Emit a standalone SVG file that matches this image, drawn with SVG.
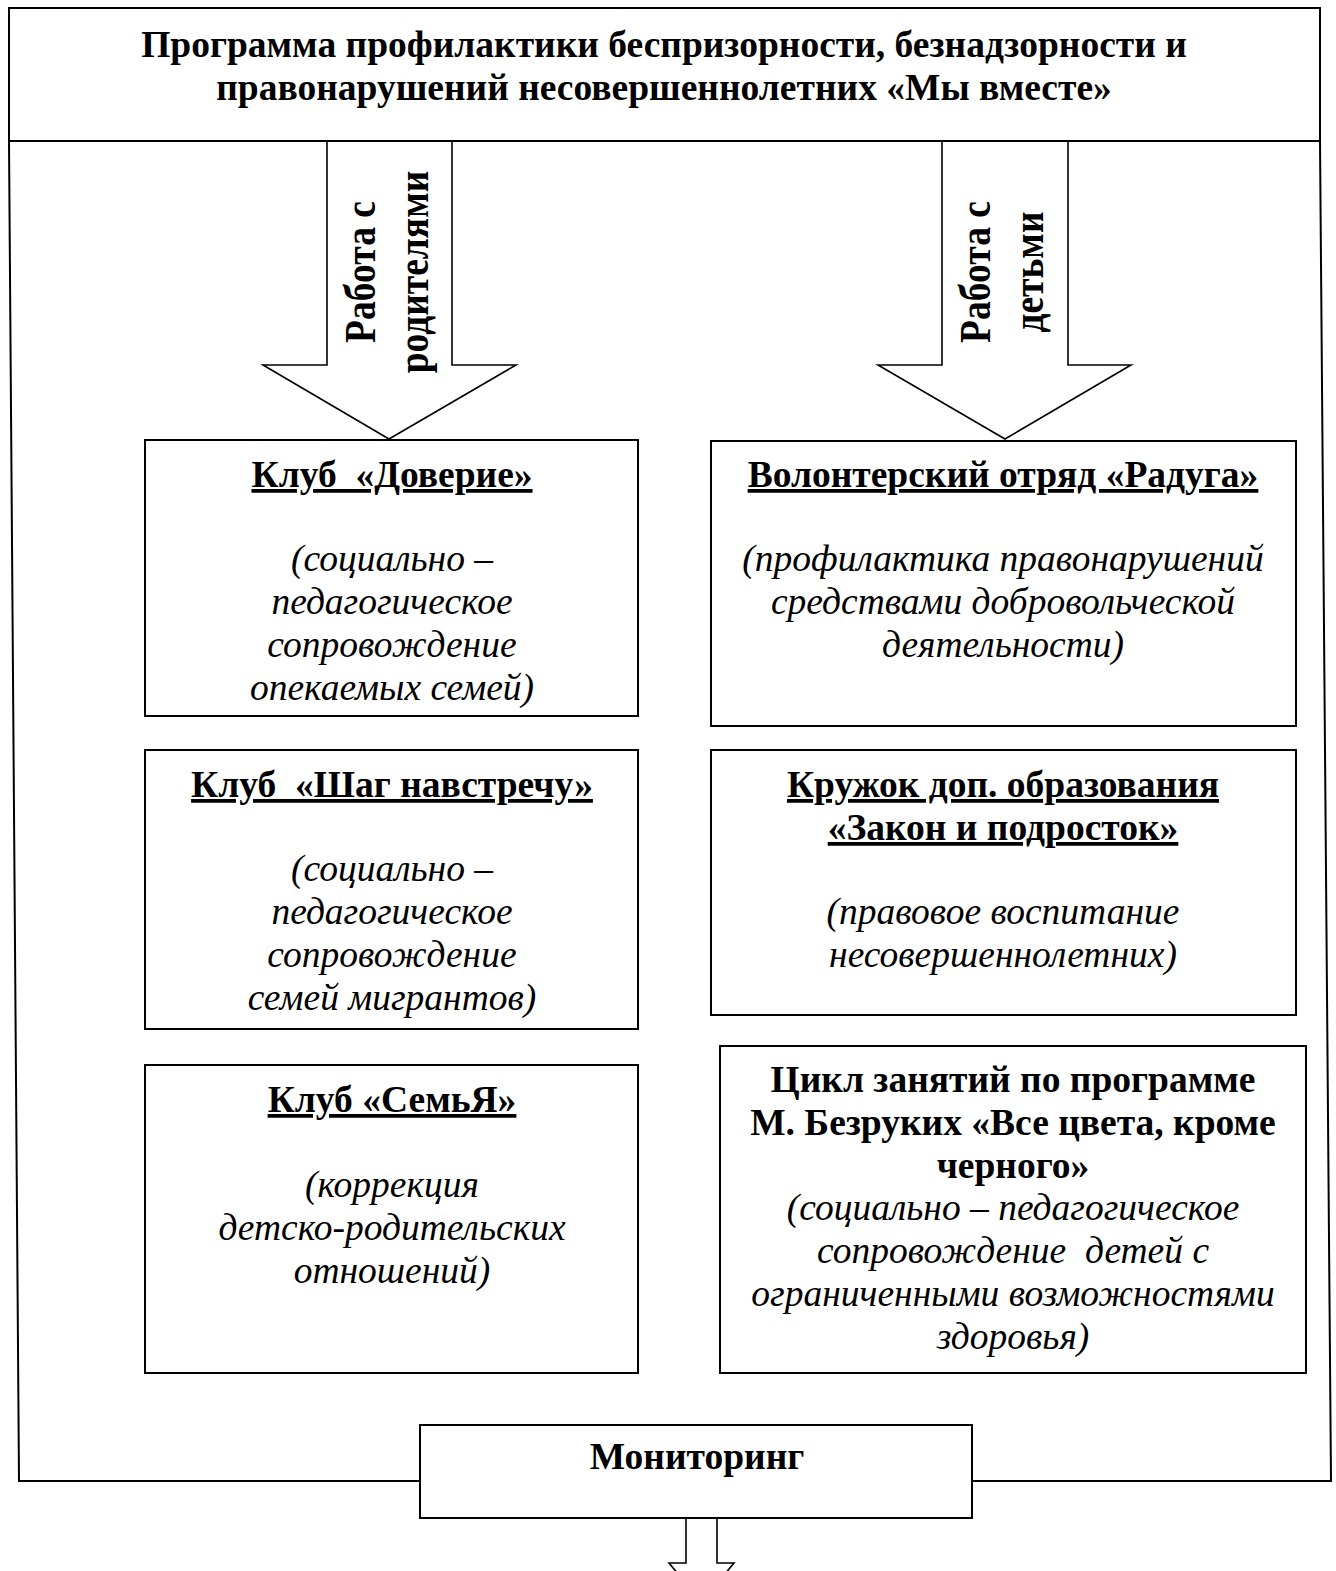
<svg xmlns="http://www.w3.org/2000/svg" width="1336" height="1571" viewBox="0 0 1336 1571">
<style>
.ln{fill:none;stroke:#000;stroke-width:2}
.bx{fill:#fff;stroke:#000;stroke-width:2}
.ar{fill:#fff;stroke:#000;stroke-width:1.6;stroke-linejoin:miter}
.h{font-family:"Liberation Serif","Times New Roman",serif;font-weight:bold;font-size:37.5px;text-anchor:middle;fill:#000;white-space:pre}
.u{text-decoration:underline}
.i{font-family:"Liberation Serif","Times New Roman",serif;font-style:italic;font-size:37.5px;text-anchor:middle;fill:#000;white-space:pre}
</style>
<rect width="1336" height="1571" fill="#fff"/>
<g id="connectors">
<path class="ln" d="M9,141 L19,1481 L420,1481 M972,1481 L1331,1481 L1320,141"/>
<polygon class="ar" points="327,141 452,141 452,365 516,365 389,439 263,365 327,365"/>
<polygon class="ar" points="942,141 1068,141 1068,365 1131,365 1005,439 878,365 942,365"/>
<polygon class="ar" points="686,1518 717,1518 717,1563 734,1563 701.5,1602 669,1563 686,1563"/>
</g>
<g id="title">
<rect class="bx" x="9" y="8" width="1311" height="133"/>
<text class="h" x="664" y="57">Программа профилактики беспризорности, безнадзорности и</text>
<text class="h" x="664" y="100">правонарушений несовершеннолетних «Мы вместе»</text>
</g>
<g id="label-parents" transform="translate(375,272) rotate(-90) scale(1,1.2)">
<text class="h" x="0" y="0">Работа с</text>
<text class="h" x="0" y="44">родителями</text>
</g>
<g id="label-children" transform="translate(990,272) rotate(-90) scale(1,1.2)">
<text class="h" x="0" y="0">Работа с</text>
<text class="h" x="0" y="44">детьми</text>
</g>
<g id="club-doverie">
<rect class="bx" x="145" y="440" width="493" height="276"/>
<text class="h u" x="392" y="487">Клуб  «Доверие»</text>
<text class="i" x="392" y="571">(социально –</text>
<text class="i" x="392" y="614">педагогическое</text>
<text class="i" x="392" y="657">сопровождение</text>
<text class="i" x="392" y="700">опекаемых семей)</text>
</g>
<g id="club-shag">
<rect class="bx" x="145" y="750" width="493" height="279"/>
<text class="h u" x="392" y="797">Клуб  «Шаг навстречу»</text>
<text class="i" x="392" y="881">(социально –</text>
<text class="i" x="392" y="924">педагогическое</text>
<text class="i" x="392" y="967">сопровождение</text>
<text class="i" x="392" y="1010">семей мигрантов)</text>
</g>
<g id="club-semya">
<rect class="bx" x="145" y="1065" width="493" height="308"/>
<text class="h u" x="392" y="1112">Клуб «СемьЯ»</text>
<text class="i" x="392" y="1197">(коррекция</text>
<text class="i" x="392" y="1240">детско-родительских</text>
<text class="i" x="392" y="1283">отношений)</text>
</g>
<g id="volunteer">
<rect class="bx" x="711" y="441" width="585" height="285"/>
<text class="h u" x="1003" y="487">Волонтерский отряд «Радуга»</text>
<text class="i" x="1003" y="571">(профилактика правонарушений</text>
<text class="i" x="1003" y="614">средствами добровольческой</text>
<text class="i" x="1003" y="657">деятельности)</text>
</g>
<g id="kruzhok">
<rect class="bx" x="711" y="750" width="585" height="265"/>
<text class="h u" x="1003" y="797">Кружок доп. образования</text>
<text class="h u" x="1003" y="840">«Закон и подросток»</text>
<text class="i" x="1003" y="924">(правовое воспитание</text>
<text class="i" x="1003" y="967">несовершеннолетних)</text>
</g>
<g id="cycle">
<rect class="bx" x="720" y="1046" width="586" height="327"/>
<text class="h" x="1013" y="1092">Цикл занятий по программе</text>
<text class="h" x="1013" y="1135">М. Безруких «Все цвета, кроме</text>
<text class="h" x="1013" y="1178">черного»</text>
<text class="i" x="1013" y="1220">(социально – педагогическое</text>
<text class="i" x="1013" y="1263">сопровождение  детей с</text>
<text class="i" x="1013" y="1306">ограниченными возможностями</text>
<text class="i" x="1013" y="1349">здоровья)</text>
</g>
<g id="monitoring">
<rect class="bx" x="420" y="1425" width="552" height="93"/>
<text class="h" x="697" y="1469">Мониторинг</text>
</g>
</svg>
